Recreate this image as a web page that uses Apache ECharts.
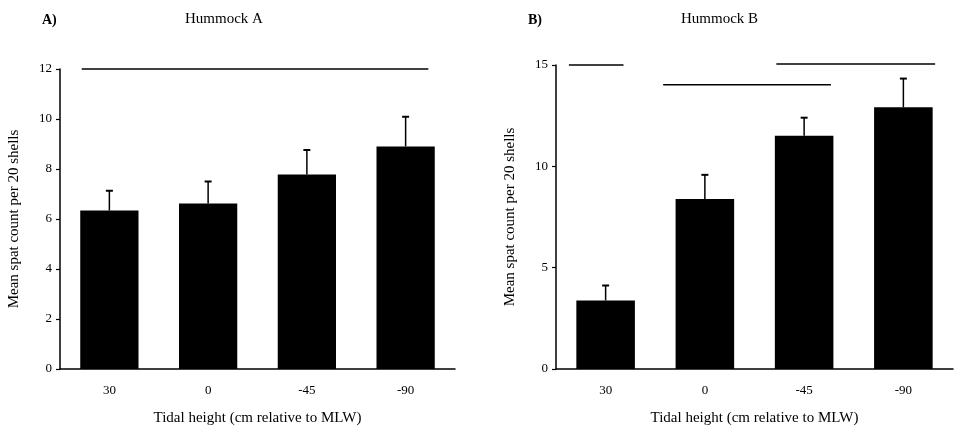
<!DOCTYPE html>
<html>
<head>
    <meta charset="UTF-8">
    <title>Hummock spat counts</title>
    <script src="https://cdn.jsdelivr.net/npm/echarts@6/dist/echarts.min.js"></script>
    <style>
        html, body { margin: 0; padding: 0; background: #fff; }
    </style>
</head>
<body>
<div id="main" style="width:958px; height:431px;"></div>
<script type="text/javascript">

    // data
    var categories = ['30', '0', '-45', '-90'];

    var meanA  = [6.34, 6.62, 7.78, 8.90];
    var upperA = [7.13, 7.50, 8.76, 10.09];
    var meanB  = [3.38, 8.39, 11.51, 12.91];
    var upperB = [4.12, 9.58, 12.40, 14.33];

    // homogeneous-group lines: [from, to, height], x in category units (0..4)
    var groupsA = [[0.22, 3.73, 12.0]];
    var groupsB = [[0.13, 0.68, 15.0], [1.08, 2.77, 14.03], [2.22, 3.82, 15.05]];

    var serif = '"Liberation Serif", "DejaVu Serif", serif';

    var myChart = echarts.init(document.getElementById('main'));

    function errData(upper, mean) {
        return upper.map(function (u, i) { return [i, mean[i], u]; });
    }

    // upper whisker only, with a small cap
    function renderErr(params, api) {
        var base = api.coord([api.value(0), api.value(1)]);
        var top = api.coord([api.value(0), api.value(2)]);
        var st = { stroke: '#000', lineWidth: 1.5 };
        return {
            type: 'group',
            children: [
                { type: 'line', shape: { x1: base[0], y1: base[1], x2: top[0], y2: top[1] }, style: st },
                { type: 'line', shape: { x1: top[0] - 3.5, y1: top[1], x2: top[0] + 3.5, y2: top[1] }, style: { stroke: '#000', lineWidth: 2 } }
            ]
        };
    }

    function renderGroup(params, api) {
        var a = api.coord([api.value(0), api.value(2)]);
        var b = api.coord([api.value(1), api.value(2)]);
        return {
            type: 'line',
            shape: { x1: a[0], y1: a[1], x2: b[0], y2: b[1] },
            style: { stroke: '#000', lineWidth: 1.5 }
        };
    }

    function catAxis(gi) {
        return {
            type: 'category', gridIndex: gi, data: categories,
            name: 'Tidal height (cm relative to MLW)',
            nameLocation: 'middle', nameGap: 42,
            nameTextStyle: { fontFamily: serif, fontSize: 15, color: '#000' },
            axisLine: { lineStyle: { color: '#000', width: 1.5 } },
            axisTick: { length: 4, lineStyle: { color: '#000', width: 1.2 } },
            axisLabel: { fontFamily: serif, fontSize: 13, color: '#000', margin: 15 }
        };
    }

    function hiddenAxis(gi) {
        return { type: 'value', gridIndex: gi, min: 0, max: 4, show: false };
    }

    function valAxis(gi, max, step) {
        return {
            type: 'value', gridIndex: gi, min: 0, max: max, interval: step,
            name: 'Mean spat count per 20 shells',
            nameLocation: 'middle', nameGap: 38,
            nameTextStyle: { fontFamily: serif, fontSize: 15, color: '#000' },
            axisLine: { show: true, lineStyle: { color: '#000', width: 1.5 } },
            axisTick: { show: true, length: 4, lineStyle: { color: '#000', width: 1.2 } },
            axisLabel: { fontFamily: serif, fontSize: 13, color: '#000', margin: 8 },
            splitLine: { show: false }
        };
    }

    var option = {
        animation: false,
        backgroundColor: '#fff',
        title: [
            { text: 'A)', left: 42, top: 13, padding: 0, textStyle: { fontFamily: serif, fontSize: 14, fontWeight: 'bold', color: '#000' } },
            { text: 'Hummock A', left: 185, top: 12, padding: 0, textStyle: { fontFamily: serif, fontSize: 15, fontWeight: 'normal', color: '#000' } },
            { text: 'B)', left: 528, top: 13, padding: 0, textStyle: { fontFamily: serif, fontSize: 14, fontWeight: 'bold', color: '#000' } },
            { text: 'Hummock B', left: 681, top: 12, padding: 0, textStyle: { fontFamily: serif, fontSize: 15, fontWeight: 'normal', color: '#000' } }
        ],
        grid: [
            { left: 60, right: 503, top: 69, bottom: 62 },
            { left: 556, right: 5, top: 65, bottom: 62 }
        ],
        xAxis: [catAxis(0), catAxis(1), hiddenAxis(0), hiddenAxis(1)],
        yAxis: [valAxis(0, 12, 2), valAxis(1, 15, 5)],
        series: [
            {
                name: 'Hummock A', type: 'bar', xAxisIndex: 0, yAxisIndex: 0,
                data: meanA, barWidth: '59%', itemStyle: { color: '#000' }
            },
            {
                type: 'custom', xAxisIndex: 0, yAxisIndex: 0,
                data: errData(upperA, meanA), renderItem: renderErr, z: 3
            },
            {
                type: 'custom', xAxisIndex: 2, yAxisIndex: 0,
                data: groupsA, renderItem: renderGroup
            },
            {
                name: 'Hummock B', type: 'bar', xAxisIndex: 1, yAxisIndex: 1,
                data: meanB, barWidth: '59%', itemStyle: { color: '#000' }
            },
            {
                type: 'custom', xAxisIndex: 1, yAxisIndex: 1,
                data: errData(upperB, meanB), renderItem: renderErr, z: 3
            },
            {
                type: 'custom', xAxisIndex: 3, yAxisIndex: 1,
                data: groupsB, renderItem: renderGroup
            }
        ]
    };

    myChart.setOption(option);

</script>
</body>
</html>
